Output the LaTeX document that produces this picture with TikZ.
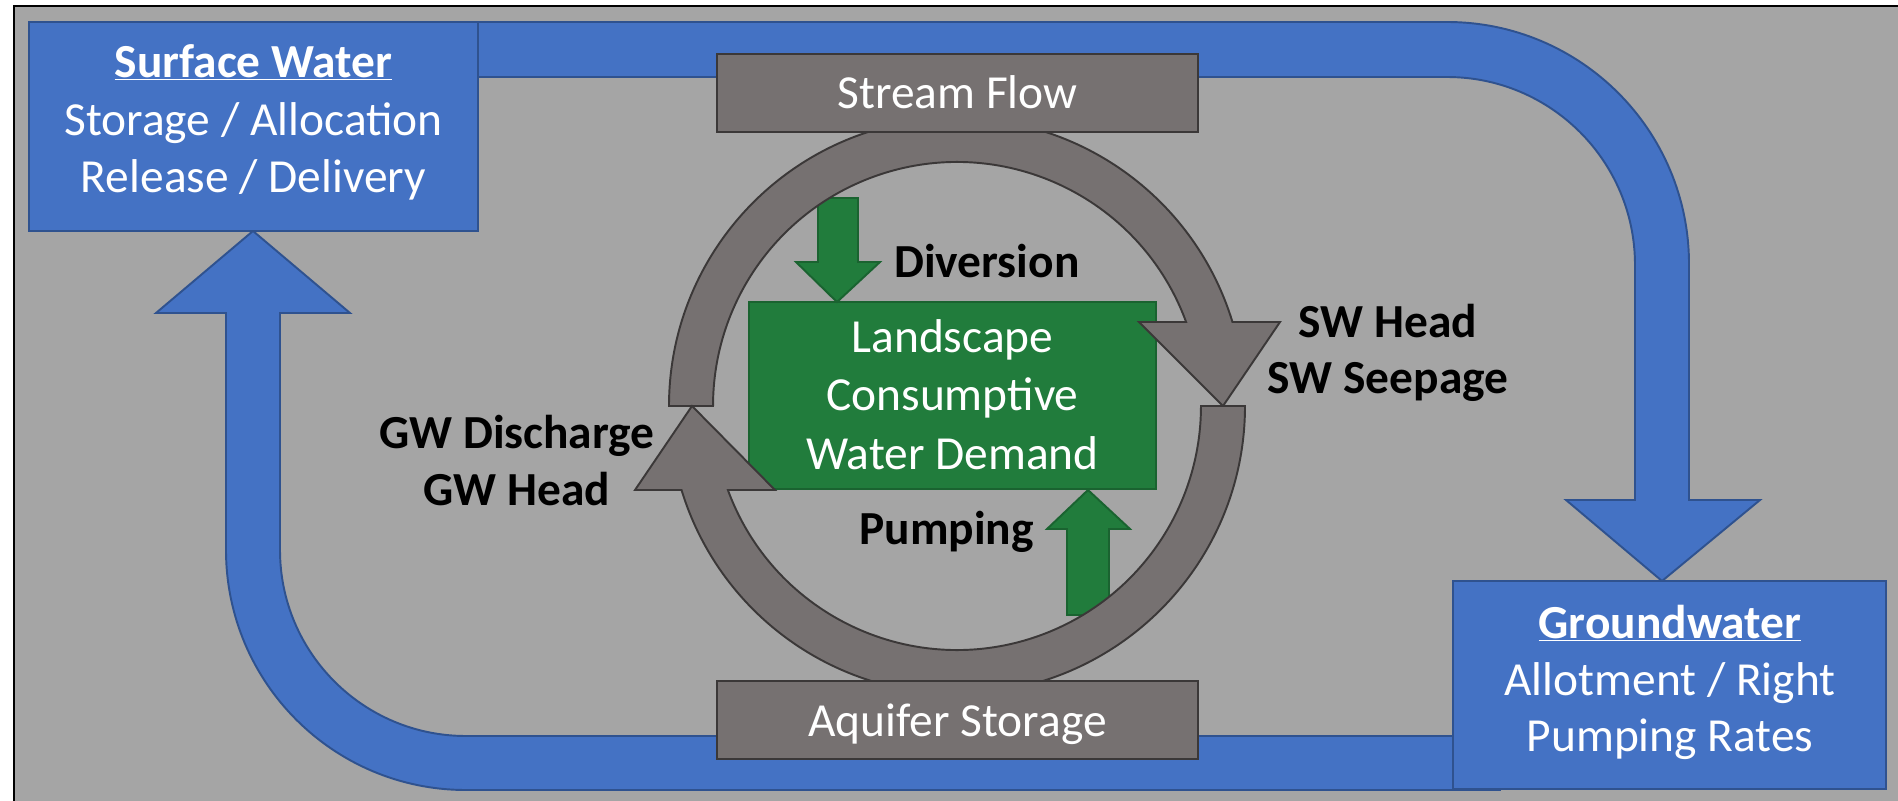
\documentclass[tikz,border=0pt]{standalone}
\usepackage{fontspec}
\setmainfont{Carlito}
\usetikzlibrary{positioning}
\definecolor{swblue}{HTML}{4472C4}
\definecolor{swedge}{HTML}{2F528F}
\definecolor{bggray}{HTML}{A5A5A5}
\definecolor{ringgray}{HTML}{767171}
\definecolor{ringedge}{HTML}{3B3838}
\definecolor{lsgreen}{HTML}{217C3C}
\definecolor{lsedge}{HTML}{1A6330}
\newcommand\bigtxt{\fontsize{27}{32}\selectfont}
\begin{document}
\begin{tikzpicture}[x=0.02cm,y=0.02cm,
  band/.style={draw=swedge,fill=swblue,line width=1.1pt},
  ring/.style={draw=ringedge,fill=ringgray,line width=1.1pt},
  leaf/.style={draw=lsedge,fill=lsgreen,line width=1.1pt},
  box/.style={rectangle,inner sep=0pt,line width=1.1pt},
  txt/.style={anchor=base,text=white,font=\bigtxt},
  lbl/.style={anchor=base,font=\bigtxt\bfseries}]
%\draw[step=100,gray,very thin] (0,0) grid (1898,-801);
\useasboundingbox (0,0) rectangle (1898,-801);
\fill[white] (0,0) rectangle (1898,-801);
\fill[bggray] (14,-6) rectangle (1898,-801);
\draw[line width=1.3pt] (14,-801) -- (14,-6) -- (1898,-6);
% blue loop
\draw[band] (420,-22) -- (1447,-22) arc[start angle=90,end angle=0,radius=242] -- (1689,-500) -- (1760,-500) -- (1662,-581) -- (1566,-500) -- (1635,-500) -- (1635,-265) arc[start angle=0,end angle=90,radius=188] -- (420,-77) -- cycle;
\draw[band] (1500,-736) -- (466,-736) arc[start angle=270,end angle=180,radius=186] -- (280,-313) -- (350,-313) -- (253,-231) -- (156,-313) -- (226,-313) -- (226,-550) arc[start angle=180,end angle=270,radius=240] -- (1500,-790) -- cycle;
\node[box,draw=swedge,fill=swblue,minimum width=8.98cm,minimum height=4.18cm] (sw) at (253.5,-126.5) {};
\node[box,draw=swedge,fill=swblue,minimum width=8.66cm,minimum height=4.16cm] (gw) at (1669.5,-685) {};
\node[txt,font=\bigtxt\bfseries] (swtitle) at (253.5,-77) {\underline{Surface Water}};
\node[txt] (swline1) at (253.5,-135) {Storage / Allocation};
\node[txt] (swline2) at (253.5,-192) {Release / Delivery};
\node[txt,font=\bigtxt\bfseries] (gwtitle) at (1670,-638) {\underline{Groundwater}};
\node[txt] (gwline1) at (1670,-695) {Allotment / Right};
\node[txt] (gwline2) at (1670,-751) {Pumping Rates};
% landscape
\node[box,draw=lsedge,fill=lsgreen,minimum width=8.14cm,minimum height=3.74cm] (land) at (952.5,-395.5) {};
\draw[leaf] (818,-198) -- (858,-198) -- (858,-262) -- (880,-262) -- (837,-302) -- (796,-262) -- (818,-262) -- cycle;
\draw[leaf] (1067,-615) -- (1109,-615) -- (1109,-529) -- (1130,-529) -- (1088,-490) -- (1047,-529) -- (1067,-529) -- cycle;
\node[txt] (land1) at (952.5,-352) {Landscape};
\node[txt] (land2) at (952.5,-410) {Consumptive};
\node[txt] (land3) at (952.5,-469) {Water Demand};
% cycle
\draw[ring] (669,-406) arc[start angle=180,end angle=16.96,radius=288] -- (1280,-322) -- (1223,-406) -- (1139,-322) -- (1186.1,-322) arc[start angle=20.14,end angle=180,radius=244] -- cycle;
\draw[ring] (1245,-406) arc[start angle=360,end angle=196.96,radius=288] -- (635,-490) -- (692,-406) -- (775,-490) -- (727.9,-490) arc[start angle=200.14,end angle=360,radius=244] -- cycle;
\node[box,draw=ringedge,fill=ringgray,minimum width=9.62cm,minimum height=1.56cm] (flow) at (957.5,-93) {};
\node[box,draw=ringedge,fill=ringgray,minimum width=9.62cm,minimum height=1.56cm] (aquifer) at (957.5,-720) {};
\node[txt] (flowtxt) at (957.5,-108) {Stream Flow};
\node[txt] (aqtxt) at (957.5,-736) {Aquifer Storage};
% labels
\node[lbl,anchor=base west] (divlbl) at (888,-277) {Diversion};
\node[lbl,anchor=base east] (pumplbl) at (1040,-544) {Pumping};
\node[lbl] (swlbl1) at (1388,-337) {SW Head};
\node[lbl] (swlbl2) at (1388,-393) {SW Seepage};
\node[lbl] (gwlbl1) at (517,-448) {GW Discharge};
\node[lbl] (gwlbl2) at (517,-505) {GW Head};
\end{tikzpicture}
\end{document}
